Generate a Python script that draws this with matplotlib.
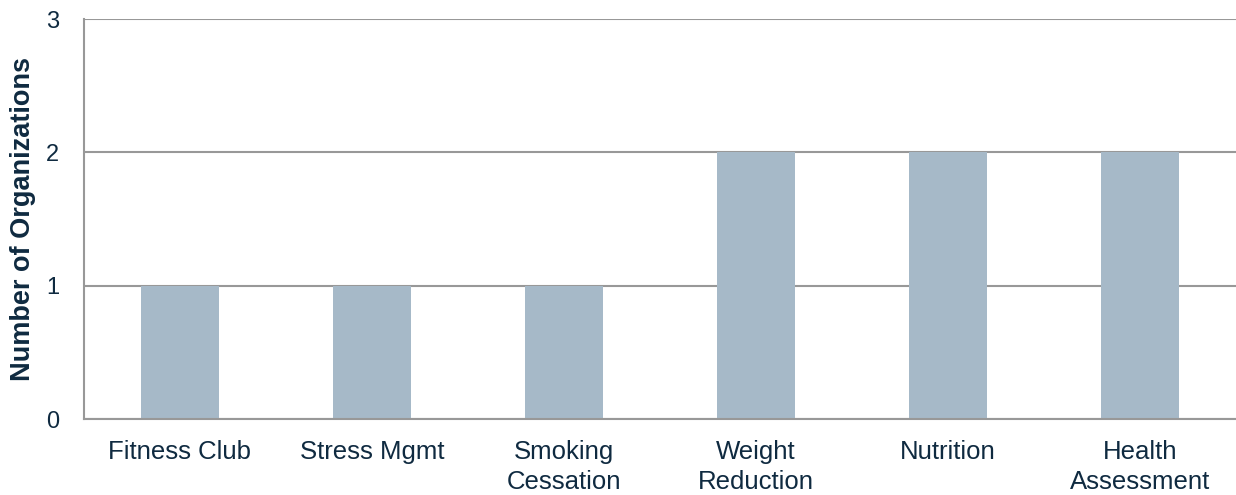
import matplotlib.pyplot as plt
import numpy as np

categories = ['Fitness Club', 'Stress Mgmt', 'Smoking\nCessation',
              'Weight\nReduction', 'Nutrition', 'Health\nAssessment']
counts = [1, 1, 1, 2, 2, 2]
y_ticks = [0, 1, 2, 3]

plt.rcParams['font.family'] = ['Liberation Sans', 'DejaVu Sans']
text_color = '#0f2a40'
grid_color = '#989898'

fig = plt.figure(figsize=(12.36, 4.95), dpi=100)
ax = fig.add_axes([84 / 1236, 76 / 495, 1152 / 1236, 400 / 495])

x = np.arange(len(categories))
ax.bar(x, counts, width=0.41, color='#a6b9c8', zorder=2)

ax.set_xlim(-0.5, len(categories) - 0.5)
ax.set_ylim(0, 3)
ax.set_yticks(y_ticks)
ax.set_xticks(x)
ax.set_xticklabels(categories, fontsize=18.5, color=text_color, va='top',
                   linespacing=1.35)
ax.tick_params(axis='x', length=0, pad=15)
ax.tick_params(axis='y', length=0, pad=18, labelsize=17, labelcolor=text_color)

ax.yaxis.grid(True, color=grid_color, linewidth=1.5, zorder=0)
ax.set_axisbelow(True)
for side in ['top', 'right']:
    ax.spines[side].set_visible(False)
ax.spines['left'].set_color(grid_color)
ax.spines['left'].set_linewidth(1.5)
ax.spines['bottom'].set_color(grid_color)
ax.spines['bottom'].set_linewidth(1.5)

ax.set_ylabel('Number of Organizations', fontsize=19.5, fontweight='bold',
              color=text_color, labelpad=7)

fig.savefig('out.png', dpi=100)
